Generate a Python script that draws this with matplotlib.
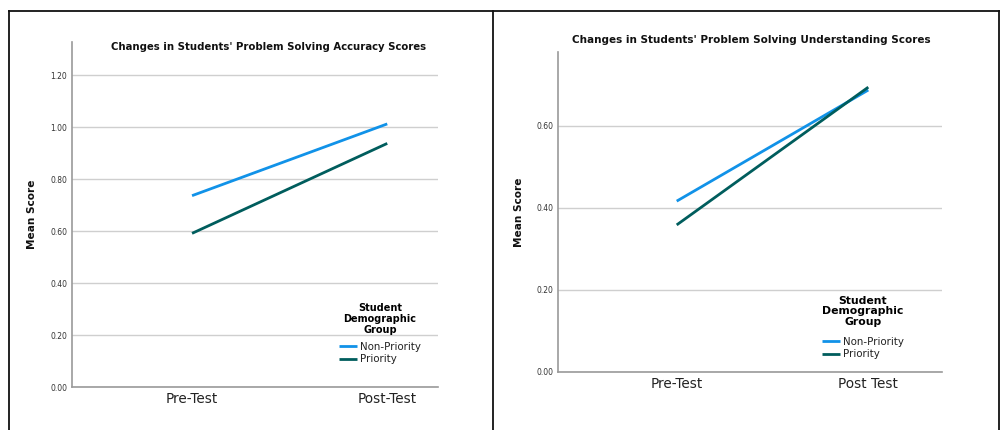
import matplotlib
matplotlib.use("Agg")
import matplotlib.pyplot as plt
from matplotlib.lines import Line2D

plt.rcParams['font.family'] = ['DejaVu Sans']

# ---- data ----
categories_left = ["Pre-Test", "Post-Test"]
categories_right = ["Pre-Test", "Post Test"]
groups = ["Non-Priority", "Priority"]
accuracy_nonpriority = [0.737, 1.013]
accuracy_priority = [0.592, 0.938]
understanding_nonpriority = [0.416, 0.687]
understanding_priority = [0.358, 0.694]
yticks_left = [0.0, 0.2, 0.4, 0.6, 0.8, 1.0, 1.2]
yticks_right = [0.0, 0.2, 0.4, 0.6]
title_left = "Changes in Students' Problem Solving Accuracy Scores"
title_right = "Changes in Students' Problem Solving Understanding Scores"
colors = ["#1192e8", "#005d5d"]

W, H = 1002, 430
fig = plt.figure(figsize=(W / 100, H / 100), dpi=100)

def fx(px):
    return px / W

def fy(py):
    return 1 - py / H

# panel borders
border_kw = dict(color="#111111", lw=1.3, transform=fig.transFigure)
fig.add_artist(Line2D([fx(8.5), fx(998.5)], [fy(10.5), fy(10.5)], **border_kw))
fig.add_artist(Line2D([fx(8.5), fx(8.5)], [fy(10.5), 0], **border_kw))
fig.add_artist(Line2D([fx(493.3), fx(493.3)], [fy(10.5), 0], **border_kw))
fig.add_artist(Line2D([fx(998.5), fx(998.5)], [fy(10.5), 0], **border_kw))


def make_panel(rect, cats, s1, s2, yticks, ylim, xlim, title, title_xy, title_size,
               ylabel_x, leg_anchor, leg_title_size, leg_sep):
    ax = fig.add_axes(rect)
    x = list(range(len(cats)))
    h1, = ax.plot(x, s1, color=colors[0], lw=2.0, solid_capstyle='butt')
    h2, = ax.plot(x, s2, color=colors[1], lw=2.0, solid_capstyle='butt')
    ax.set_xlim(*xlim)
    ax.set_ylim(*ylim)
    ax.set_yticks(yticks)
    ax.set_yticklabels([f"{v:.2f}" for v in yticks])
    ax.set_xticks(x)
    ax.set_xticklabels(cats)
    ax.grid(axis='y', color="#cfcfcf", lw=1.0)
    ax.set_axisbelow(True)
    for s in ['top', 'right']:
        ax.spines[s].set_visible(False)
    for s in ['left', 'bottom']:
        ax.spines[s].set_color("#9a9a9a")
        ax.spines[s].set_linewidth(1.2)
    ax.tick_params(axis='y', length=0, pad=3.5, labelsize=5.5, labelcolor="#333333")
    ax.tick_params(axis='x', length=0, pad=3.5, labelsize=9.8, labelcolor="#222222")
    fig.text(fx(title_xy[0]), fy(title_xy[1]), title, ha='center', va='center',
             fontsize=title_size, fontweight='bold', color="#111111")
    fig.text(fx(ylabel_x), rect[1] + rect[3] / 2, "Mean Score", rotation=90,
             ha='center', va='center', fontsize=7.6, fontweight='bold', color="#111111")
    leg = ax.legend([h1, h2], groups, title="Student\nDemographic\nGroup",
                    loc='upper center', bbox_to_anchor=(fx(leg_anchor[0]), fy(leg_anchor[1])),
                    bbox_transform=fig.transFigure, frameon=False, fontsize=7.4,
                    title_fontproperties={'weight': 'bold', 'size': leg_title_size},
                    handlelength=1.75, handletextpad=0.2, labelspacing=0.25,
                    borderpad=0, borderaxespad=0, alignment='center')
    leg._legend_box.sep = leg_sep
    leg.get_title().set_linespacing(1.1)
    leg.get_title().set_multialignment('center')
    for t in leg.get_texts():
        t.set_color("#222222")
    return ax

# left panel
make_panel([fx(72), fy(387.3), fx(438) - fx(72), fy(42) - fy(387.3)],
           categories_left, accuracy_nonpriority, accuracy_priority,
           yticks_left, (0, 1.328), (-0.615, 1.26),
           title_left, (268.7, 46.5), 7.3, 32, (380, 303), 7.0, 5)

# right panel
make_panel([fx(558.3), fy(371.7), fx(941.7) - fx(558.3), fy(52.3) - fy(371.7)],
           categories_right, understanding_nonpriority, understanding_priority,
           yticks_right, (0, 0.779), (-0.618, 1.383),
           title_right, (751, 40), 7.5, 519.5, (863, 295.5), 7.8, 7)

fig.savefig("out.png", dpi=100)
